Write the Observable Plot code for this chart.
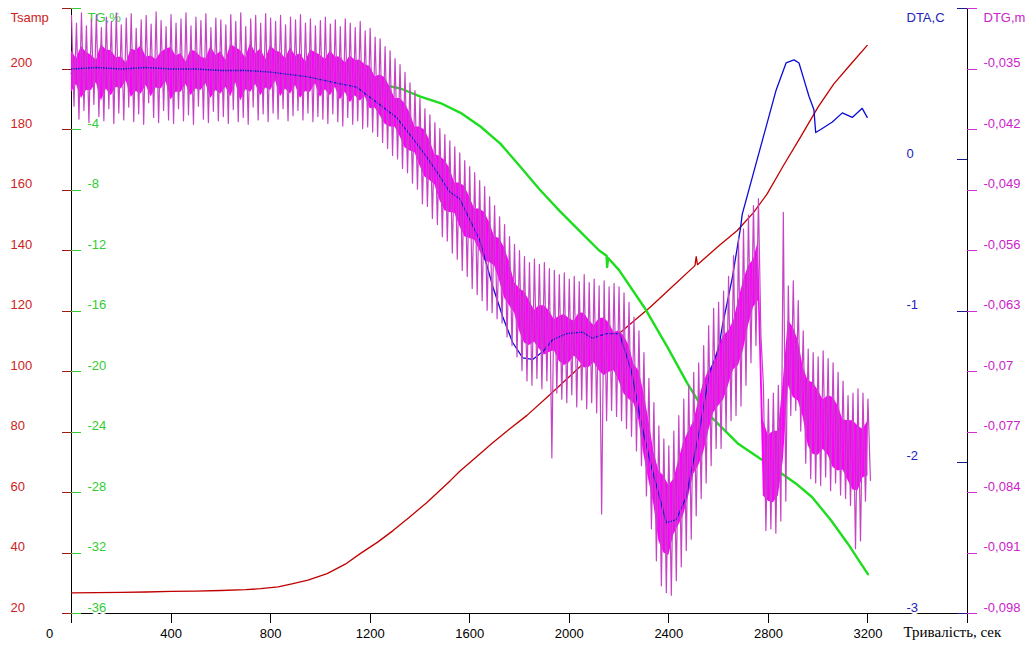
<!DOCTYPE html>
<html><head><meta charset="utf-8">
<script src="https://cdn.jsdelivr.net/npm/d3@7"></script>
<script src="https://cdn.jsdelivr.net/npm/@observablehq/plot@0.6"></script>
<style>
html,body{margin:0;padding:0;background:#fff;}
#wrap{position:relative;width:1029px;height:646px;overflow:hidden;}
#wrap svg{position:absolute;left:0;top:0;background:transparent !important;max-width:none !important;}
</style></head><body><div id="wrap"></div>
<script>
// ---------- axes / ticks ----------
const xTicks = [400, 800, 1200, 1600, 2000, 2400, 2800, 3200];
const xTitle = "Тривалість, сек";
const tsampTicks = [20, 40, 60, 80, 100, 120, 140, 160, 180, 200, 220];
const tgTicks = [-36, -32, -28, -24, -20, -16, -12, -8, -4, 0, 4];
const dtaTicks = [-3, -2, -1, 0, 1];
const dtgTicks = [-0.098, -0.091, -0.084, -0.077, -0.07, -0.063, -0.056, -0.049, -0.042, -0.035, -0.028];

// ---------- Tsamp (red) ----------
const tsampTime  = [0,100,200,300,400,500,600,700,760,830,890,950,1027,1100,1160,1230,1292,1360,1428,1523,1560,1630,1690,1760,1830,1924,2042,2152,2250,2326,2420,2505,2510,2515,2600,2675,2740,2795,2860,2929,3000,3063,3130,3197];
const tsampValue = [26.8,26.9,27.0,27.1,27.3,27.4,27.6,27.9,28.2,28.8,29.9,31.0,33.2,36.3,39.8,43.6,47.4,52.0,56.7,64.0,67.0,72.0,76.3,81.0,85.5,92.5,101.5,109.2,116.0,121.3,128.5,135.0,138.0,135.3,141.5,146.6,152.5,158.7,168.0,177.5,187.5,195.1,201.5,207.8];

// ---------- TG % (green) ----------
const tgTime  = [0,200,400,600,800,1000,1100,1200,1280,1322,1402,1482,1563,1643,1724,1800,1880,1960,2040,2120,2150,2152,2156,2200,2303,2395,2475,2520,2570,2680,2780,2910,2975,3050,3120,3160,3200];
const tgValue = [-0.3,-0.4,-0.45,-0.55,-0.63,-0.8,-0.9,-1.02,-1.15,-1.29,-1.82,-2.25,-2.9,-3.8,-4.95,-6.4,-7.95,-9.36,-10.68,-12.0,-12.35,-13.1,-12.5,-13.3,-15.8,-18.4,-20.8,-22.0,-23.0,-24.8,-25.9,-27.4,-28.3,-29.8,-31.4,-32.4,-33.4];

// ---------- DTA, C (blue) ----------
const dtaTime  = [0,100,200,300,400,500,600,700,800,945,1057,1146,1226,1306,1386,1426,1480,1518,1560,1640,1693,1733,1773,1813,1853,1893,1933,1989,2053,2093,2149,2202,2250,2290,2330,2390,2430,2470,2523,2563,2600,2615,2654,2688,2695,2763,2831,2871,2903,2923,2943,2963,2983,2990,3010,3057,3097,3137,3177,3197];
const dtaValue = [0.60,0.61,0.60,0.61,0.60,0.60,0.59,0.59,0.58,0.55,0.51,0.48,0.38,0.28,0.11,0.02,-0.11,-0.21,-0.26,-0.53,-0.84,-1.04,-1.21,-1.31,-1.32,-1.27,-1.19,-1.15,-1.14,-1.18,-1.15,-1.15,-1.40,-1.75,-2.03,-2.40,-2.38,-2.23,-1.79,-1.41,-1.25,-1.10,-0.79,-0.45,-0.36,0.05,0.46,0.64,0.66,0.64,0.53,0.42,0.33,0.18,0.20,0.25,0.31,0.28,0.34,0.28];

// ---------- DTG, m (magenta): oscillation peaks / troughs, one pair every dtgStep s ----------
const dtgStep = 20;
const dtgHigh = [
-0.0288,-0.0297,-0.0285,-0.0300,-0.0292,-0.0287,-0.0302,-0.0290,-0.0295,-0.0285,
-0.0299,-0.0291,-0.0286,-0.0303,-0.0293,-0.0288,-0.0298,-0.0284,-0.0294,-0.0301,
-0.0287,-0.0297,-0.0292,-0.0285,-0.0300,-0.0290,-0.0294,-0.0286,-0.0302,-0.0291,
-0.0293,-0.0299,-0.0287,-0.0295,-0.0285,-0.0301,-0.0292,-0.0288,-0.0297,-0.0286,
-0.0291,-0.0295,-0.0288,-0.0299,-0.0290,-0.0293,-0.0287,-0.0297,-0.0292,-0.0300,
-0.0294,-0.0290,-0.0298,-0.0293,-0.0301,-0.0292,-0.0297,-0.0302,-0.0295,-0.0306,
-0.0303,-0.0313,-0.0315,-0.0324,-0.0329,-0.0338,-0.0345,-0.0354,-0.0366,-0.0375,
-0.0384,-0.0396,-0.0403,-0.0412,-0.0419,-0.0426,-0.0433,-0.0440,-0.0447,-0.0456,
-0.0463,-0.0470,-0.0479,-0.0486,-0.0498,-0.0508,-0.0521,-0.0530,-0.0544,-0.0553,
-0.0560,-0.0567,-0.0574,-0.0570,-0.0576,-0.0574,-0.0581,-0.0583,-0.0588,-0.0586,
-0.0593,-0.0590,-0.0596,-0.0588,-0.0597,-0.0593,-0.0601,-0.0595,-0.0602,-0.0598,
-0.0602,-0.0609,-0.0620,-0.0637,-0.0653,-0.0678,-0.0708,-0.0736,-0.0763,-0.0778,
-0.0786,-0.0769,-0.0751,-0.0732,-0.0716,-0.0701,-0.0690,-0.0670,-0.0647,-0.0627,
-0.0620,-0.0607,-0.0590,-0.0566,-0.0546,-0.0535,-0.0519,-0.0508,-0.0500,-0.0716,
-0.0732,-0.0725,-0.0716,-0.0516,-0.0601,-0.0595,-0.0618,-0.0653,-0.0674,-0.0678,
-0.0683,-0.0676,-0.0685,-0.0690,-0.0701,-0.0711,-0.0728,-0.0725,-0.0720,-0.0725,
-0.0732];
const dtgLow = [
-0.0393,-0.0408,-0.0398,-0.0412,-0.0391,-0.0405,-0.0410,-0.0396,-0.0413,-0.0401,
-0.0409,-0.0394,-0.0411,-0.0402,-0.0414,-0.0389,-0.0406,-0.0412,-0.0398,-0.0409,
-0.0413,-0.0396,-0.0410,-0.0403,-0.0414,-0.0393,-0.0408,-0.0412,-0.0399,-0.0410,
-0.0405,-0.0413,-0.0397,-0.0411,-0.0406,-0.0414,-0.0394,-0.0409,-0.0402,-0.0411,
-0.0401,-0.0408,-0.0396,-0.0410,-0.0404,-0.0398,-0.0409,-0.0401,-0.0411,-0.0405,
-0.0408,-0.0413,-0.0402,-0.0411,-0.0416,-0.0406,-0.0414,-0.0410,-0.0419,-0.0417,
-0.0423,-0.0428,-0.0435,-0.0442,-0.0450,-0.0454,-0.0465,-0.0470,-0.0482,-0.0489,
-0.0506,-0.0509,-0.0523,-0.0530,-0.0544,-0.0549,-0.0563,-0.0570,-0.0583,-0.0590,
-0.0604,-0.0611,-0.0618,-0.0629,-0.0632,-0.0639,-0.0644,-0.0660,-0.0670,-0.0683,
-0.0699,-0.0711,-0.0716,-0.0708,-0.0720,-0.0711,-0.0800,-0.0725,-0.0732,-0.0736,
-0.0727,-0.0741,-0.0733,-0.0743,-0.0736,-0.0748,-0.0865,-0.0757,-0.0745,-0.0752,
-0.0757,-0.0766,-0.0775,-0.0792,-0.0809,-0.0844,-0.0882,-0.0919,-0.0948,-0.0956,
-0.0959,-0.0942,-0.0926,-0.0907,-0.0894,-0.0867,-0.0847,-0.0829,-0.0809,-0.0789,
-0.0789,-0.0769,-0.0757,-0.0751,-0.0740,-0.0716,-0.0690,-0.0670,-0.0659,-0.0884,
-0.0882,-0.0887,-0.0873,-0.0850,-0.0751,-0.0745,-0.0769,-0.0806,-0.0824,-0.0829,
-0.0832,-0.0822,-0.0838,-0.0829,-0.0843,-0.0847,-0.0855,-0.0905,-0.0896,-0.0850,
-0.0826];
// dense core band of the DTG trace: samples every dtgCoreStep s, plus samples half a step later
const dtgCoreStep = 40;
const dtgCoreHigh = [
-0.0329,-0.0324,-0.0334,-0.0322,-0.0329,-0.0336,-0.0327,-0.0323,-0.0335,-0.0331,
-0.0325,-0.0332,-0.0328,-0.0336,-0.0324,-0.0330,-0.0322,-0.0329,-0.0320,-0.0327,
-0.0323,-0.0331,-0.0325,-0.0332,-0.0328,-0.0334,-0.0329,-0.0336,-0.0335,-0.0340,
-0.0347,-0.0357,-0.0371,-0.0384,-0.0401,-0.0417,-0.0433,-0.0451,-0.0465,-0.0482,
-0.0498,-0.0512,-0.0528,-0.0546,-0.0574,-0.0604,-0.0618,-0.0624,-0.0630,-0.0636,
-0.0639,-0.0632,-0.0641,-0.0639,-0.0644,-0.0653,-0.0670,-0.0699,-0.0757,-0.0815,
-0.0832,-0.0803,-0.0769,-0.0734,-0.0699,-0.0670,-0.0653,-0.0618,-0.0578,-0.0549,
-0.0774,-0.0769,-0.0641,-0.0664,-0.0711,-0.0722,-0.0728,-0.0740,-0.0757,-0.0763,
-0.0757];
const dtgCoreLow = [
-0.0377,-0.0384,-0.0375,-0.0387,-0.0381,-0.0373,-0.0383,-0.0379,-0.0382,-0.0373,
-0.0386,-0.0377,-0.0381,-0.0375,-0.0384,-0.0379,-0.0382,-0.0387,-0.0377,-0.0381,
-0.0375,-0.0382,-0.0379,-0.0384,-0.0377,-0.0383,-0.0381,-0.0386,-0.0389,-0.0387,
-0.0396,-0.0404,-0.0417,-0.0428,-0.0445,-0.0462,-0.0479,-0.0502,-0.0516,-0.0532,
-0.0546,-0.0560,-0.0574,-0.0595,-0.0624,-0.0653,-0.0670,-0.0674,-0.0678,-0.0688,
-0.0690,-0.0688,-0.0695,-0.0699,-0.0701,-0.0711,-0.0732,-0.0757,-0.0826,-0.0896,
-0.0913,-0.0878,-0.0844,-0.0809,-0.0769,-0.0740,-0.0716,-0.0693,-0.0647,-0.0618,
-0.0850,-0.0844,-0.0716,-0.0734,-0.0786,-0.0797,-0.0797,-0.0815,-0.0826,-0.0838,
-0.0821];
const dtgCoreHighMid = [
-0.0338,-0.0331,-0.0340,-0.0328,-0.0337,-0.0343,-0.0329,-0.0336,-0.0339,-0.0327,
-0.0335,-0.0342,-0.0330,-0.0338,-0.0334,-0.0340,-0.0325,-0.0337,-0.0332,-0.0339,
-0.0329,-0.0338,-0.0335,-0.0342,-0.0331,-0.0339,-0.0336,-0.0343,-0.0340,-0.0345,
-0.0359,-0.0360,-0.0384,-0.0390,-0.0417,-0.0421,-0.0449,-0.0456,-0.0482,-0.0486,
-0.0512,-0.0516,-0.0544,-0.0557,-0.0597,-0.0608,-0.0629,-0.0624,-0.0640,-0.0634,
-0.0642,-0.0633,-0.0647,-0.0638,-0.0655,-0.0659,-0.0692,-0.0725,-0.0793,-0.0821,
-0.0825,-0.0782,-0.0758,-0.0713,-0.0692,-0.0659,-0.0642,-0.0595,-0.0571,-0.0757,
-0.0769,-0.0711,-0.0649,-0.0695,-0.0713,-0.0733,-0.0730,-0.0756,-0.0757,-0.0767];
const dtgCoreLowMid = [
-0.0368,-0.0375,-0.0366,-0.0373,-0.0371,-0.0364,-0.0376,-0.0369,-0.0372,-0.0365,
-0.0377,-0.0368,-0.0373,-0.0367,-0.0375,-0.0371,-0.0366,-0.0374,-0.0368,-0.0372,
-0.0364,-0.0373,-0.0369,-0.0376,-0.0367,-0.0374,-0.0371,-0.0377,-0.0381,-0.0382,
-0.0395,-0.0414,-0.0417,-0.0441,-0.0447,-0.0475,-0.0484,-0.0514,-0.0517,-0.0544,
-0.0548,-0.0572,-0.0578,-0.0615,-0.0632,-0.0667,-0.0666,-0.0681,-0.0676,-0.0693,
-0.0682,-0.0696,-0.0690,-0.0705,-0.0699,-0.0726,-0.0737,-0.0796,-0.0854,-0.0910,
-0.0889,-0.0866,-0.0819,-0.0794,-0.0748,-0.0733,-0.0698,-0.0675,-0.0626,-0.0844,
-0.0852,-0.0803,-0.0730,-0.0753,-0.0796,-0.0790,-0.0811,-0.0814,-0.0837,-0.0823];

// ---------- build tables ----------
const tsamp = tsampTime.map((t, i) => ({t, v: tsampValue[i]}));
const tg = tgTime.map((t, i) => ({t, v: tgValue[i]}));
const dta = dtaTime.map((t, i) => ({t, v: dtaValue[i]}));
const dtgTrace = [];
dtgHigh.forEach((h, i) => {
  dtgTrace.push({t: i * dtgStep, v: h});
  dtgTrace.push({t: i * dtgStep + dtgStep / 2, v: dtgLow[i]});
});
const dtgCore = [];
dtgCoreHigh.forEach((h, i) => {
  dtgCore.push({t: i * dtgCoreStep, hi: h, lo: dtgCoreLow[i]});
  if (i < dtgCoreHighMid.length) dtgCore.push({t: i * dtgCoreStep + dtgCoreStep / 2, hi: dtgCoreHighMid[i], lo: dtgCoreLowMid[i]});
});

// ---------- layout ----------
const W = 1029, H = 646;
const sans = "Liberation Sans, Arial, Helvetica, sans-serif";
const serif = "Liberation Serif, Times New Roman, serif";
const fs = 13;
function layer(yDomain, marks) {
  return Plot.plot({
    width: W, height: H,
    marginLeft: 71, marginRight: 62, marginTop: 8, marginBottom: 33,
    x: {domain: [0, 3600], axis: null},
    y: {domain: yDomain, axis: null},
    style: {background: "transparent", overflow: "visible"},
    marks
  });
}
const wrap = document.getElementById("wrap");
const fmtDtg = d => String(d).replace(".", ",");

// layer 1: temperature + frame + x axis
wrap.appendChild(layer([20, 220], [
  Plot.ruleY([20], {x1: 0, x2: 3600, stroke: "#000", shapeRendering: "crispEdges"}),
  Plot.ruleX([0, 3600], {y1: 16.7, y2: 220, stroke: "#000", shapeRendering: "crispEdges"}),
  Plot.ruleX(xTicks, {x: d => d, y1: 16.7, y2: 20, stroke: "#000", shapeRendering: "crispEdges"}),
  Plot.text(xTicks, {x: d => d, y: 20, dy: 20, text: d => String(d), fill: "#000", fontSize: fs, fontFamily: sans}),
  Plot.text(["0"], {x: 0, y: 20, dx: -22, dy: 20, text: d => d, fill: "#000", fontSize: fs, fontFamily: sans}),
  Plot.text([xTitle], {x: 3600, y: 20, dx: -64, dy: 19, text: d => d, textAnchor: "start", fill: "#000", fontSize: 15, fontFamily: serif}),
  Plot.ruleY(tsampTicks, {y: d => d, x1: -36, x2: 0, stroke: "#a01818", shapeRendering: "crispEdges"}),
  Plot.text(tsampTicks.slice(0, -1), {x: 0, y: d => d, dx: -61, dy: -6, text: d => String(d), textAnchor: "start", fill: "#cc2222", fontSize: fs, fontFamily: sans}),
  Plot.text(["Tsamp"], {x: 0, y: 220, dx: -61, dy: 9, text: d => d, textAnchor: "start", fill: "#cc2222", fontSize: fs, fontFamily: sans}),
  Plot.line(tsamp, {x: "t", y: "v", stroke: "#c00000", strokeWidth: 1.3})
]));

// layer 2: TG
wrap.appendChild(layer([-36, 4], [
  Plot.ruleY(tgTicks, {y: d => d, x1: 0, x2: 40, stroke: "#33cc33", shapeRendering: "crispEdges"}),
  Plot.text(tgTicks.slice(0, -1), {x: 0, y: d => d, dx: 16, dy: -6, text: d => String(d), textAnchor: "start", fill: "#33cc33", stroke: "white", strokeWidth: 4, paintOrder: "stroke", fontSize: fs, fontFamily: sans}),
  Plot.text(["TG,%"], {x: 0, y: 4, dx: 16, dy: 9, text: d => d, textAnchor: "start", fill: "#33cc33", fontSize: fs, fontFamily: sans}),
  Plot.line(tg, {x: "t", y: "v", stroke: "#1edc1e", strokeWidth: 2.4})
]));

// layer 3: DTG core band
wrap.appendChild(layer([-0.098, -0.028], [
  Plot.areaY(dtgCore, {x: "t", y1: "lo", y2: "hi", fill: "#ff00ff", curve: "linear"})
]));

// layer 4: DTA
wrap.appendChild(layer([-3, 1], [
  Plot.ruleY(dtaTicks, {y: d => d, x1: 3560, x2: 3600, stroke: "#1a1a90", shapeRendering: "crispEdges"}),
  Plot.text(dtaTicks.slice(0, -1), {x: 3600, y: d => d, dx: -61, dy: -6, text: d => String(d), textAnchor: "start", fill: "#2222bb", stroke: "white", strokeWidth: 4, paintOrder: "stroke", fontSize: fs, fontFamily: sans}),
  Plot.text(["DTA,C"], {x: 3600, y: 1, dx: -61, dy: 9, text: d => d, textAnchor: "start", fill: "#2222bb", fontSize: fs, fontFamily: sans}),
  Plot.line(dta, {x: "t", y: "v", stroke: "#0a0ad8", strokeWidth: 1.3})
]));

// layer 5: DTG trace + axis
wrap.appendChild(layer([-0.098, -0.028], [
  Plot.line(dtgTrace, {x: "t", y: "v", stroke: "#c444c4", strokeWidth: 1.2}),
  Plot.ruleY(dtgTicks, {y: d => d, x1: 3600, x2: 3640, stroke: "#cc33cc", shapeRendering: "crispEdges"}),
  Plot.text(dtgTicks.slice(0, -1), {x: 3600, y: d => d, dx: 16, dy: -6, text: fmtDtg, textAnchor: "start", fill: "#cc22cc", fontSize: fs, fontFamily: sans}),
  Plot.text(["DTG,m"], {x: 3600, y: -0.028, dx: 16, dy: 9, text: d => d, textAnchor: "start", fill: "#cc22cc", fontSize: fs, fontFamily: sans})
]));
</script></body></html>
